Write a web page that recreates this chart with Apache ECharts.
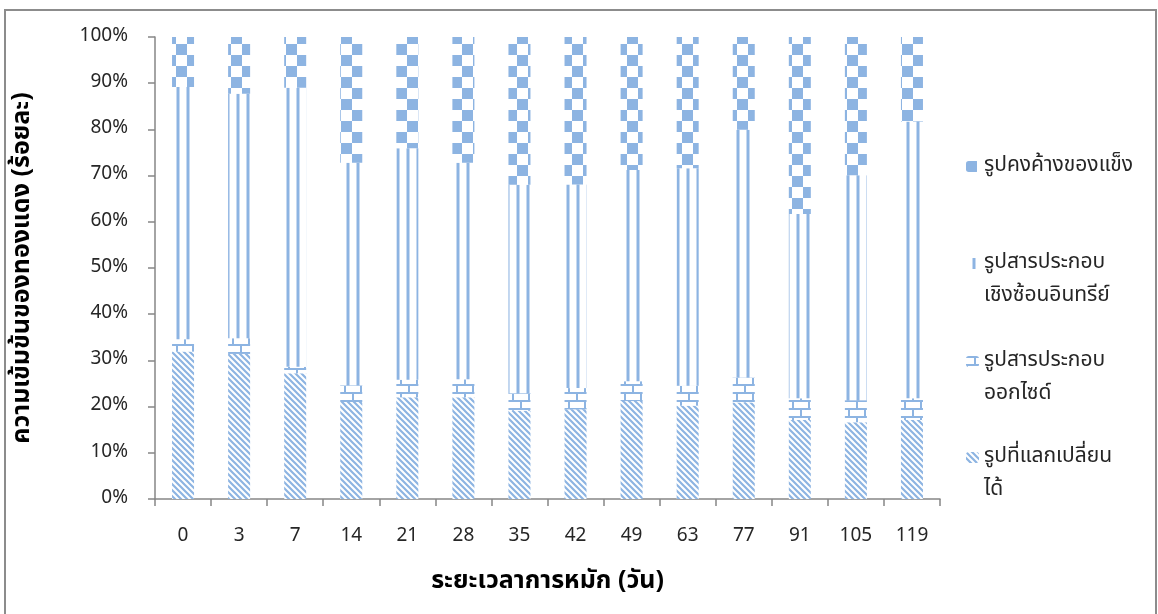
<!DOCTYPE html>
<html>
<head>
<meta charset="utf-8">
<script src="https://cdn.jsdelivr.net/npm/echarts@6/dist/echarts.min.js"></script>
<style>
html, body { margin: 0; padding: 0; background: #fff; }
#chart { width: 1158px; height: 614px; }
</style>
</head>
<body>
<div id="chart"></div>
<script>
// data (percent of total copper)
const days = ['0', '3', '7', '14', '21', '28', '35', '42', '49', '63', '77', '91', '105', '119']
const exchangeable = [31.9, 31.4, 27.2, 21.0, 22.0, 22.0, 19.1, 19.4, 21.2, 20.2, 20.9, 17.1, 16.6, 17.1]
const oxide = [2.7, 3.4, 1.4, 3.6, 3.8, 3.9, 3.8, 4.6, 4.3, 4.3, 5.4, 4.7, 4.8, 4.7]
const organic = [54.6, 52.9, 60.4, 48.2, 50.1, 46.9, 45.1, 44.1, 45.7, 47.1, 53.6, 39.9, 48.7, 59.9]
const residual = [10.8, 12.3, 11.0, 27.2, 24.1, 27.2, 32.0, 31.9, 28.8, 28.4, 20.1, 38.3, 29.9, 18.3]

const seriesNames = ['รูปที่แลกเปลี่ยนได้', 'รูปสารประกอบออกไซด์', 'รูปสารประกอบเชิงซ้อนอินทรีย์', 'รูปคงค้างของแข็ง']
// legend text, first line / second line
const legendLines = [
  ['รูปที่แลกเปลี่ยน', 'ได้'],
  ['รูปสารประกอบ', 'ออกไซด์'],
  ['รูปสารประกอบ', 'เชิงซ้อนอินทรีย์'],
  ['รูปคงค้างของแข็ง', '']
]

const BLUE = '#8db4e2'
const LIGHT = '#c6d9f1'
const FONT = "'Noto Sans Thai', 'Noto Sans', 'DejaVu Sans', sans-serif"

function tile(w, h, draw) {
  let c = document.createElement('canvas')
  c.width = w
  c.height = h
  let g = c.getContext('2d')
  g.fillStyle = '#fff'
  g.fillRect(0, 0, w, h)
  draw(g)
  return { image: c, repeat: 'repeat' }
}

const hatch = tile(6, 6, g => {
  g.strokeStyle = BLUE
  g.lineWidth = 2.2
  g.beginPath()
  for (let k = -1; k <= 1; k++) {
    g.moveTo(k * 6 - 1, -1)
    g.lineTo(k * 6 + 7, 7)
  }
  g.stroke()
})
const brick = tile(16, 16, g => {
  g.fillStyle = BLUE
  g.fillRect(0, 0, 16, 2)
  g.fillRect(0, 8, 16, 2)
  g.fillRect(8, 0, 2, 8)
  g.fillRect(0, 8, 2, 8)
})
const vlines = tile(10, 10, g => {
  g.fillStyle = LIGHT
  g.fillRect(6, 0, 4, 10)
  g.fillStyle = BLUE
  g.fillRect(7, 0, 2, 10)
})
const checker = tile(22, 22, g => {
  g.fillStyle = BLUE
  g.fillRect(0, 0, 11, 11)
  g.fillRect(11, 11, 11, 11)
})

const fills = [hatch, brick, vlines, checker]
const values = [exchangeable, oxide, organic, residual]

// legend rows, top to bottom, and the y of the first line
const legendTops = [447, 351, 253, 156]

let chart = echarts.init(document.getElementById('chart'))

let option = {
  backgroundColor: '#fff',
  animation: false,
  textStyle: { fontFamily: FONT },
  grid: { left: 155, right: 218, top: 37, bottom: 115 },
  legend: seriesNames.map((name, i) => ({
    data: [name],
    orient: 'vertical',
    left: 966,
    top: legendTops[i],
    padding: 0,
    itemWidth: 13,
    itemHeight: 11,
    selectedMode: false,
    formatter: () => legendLines[i][0],
    textStyle: { fontSize: 21, color: '#262626', fontFamily: FONT }
  })),
  graphic: [
    {
      type: 'rect',
      shape: { x: 5, y: 10, width: 1151, height: 620 },
      style: { fill: 'none', stroke: '#8c8c8c', lineWidth: 2 },
      silent: true
    }
  ].concat(legendLines.filter(l => l[1]).map((l, k) => ({
    type: 'text',
    left: 984,
    top: legendTops[k] + 33,
    style: { text: l[1], fill: '#262626', font: '21px ' + FONT }
  }))),
  xAxis: {
    type: 'category',
    data: days,
    name: 'ระยะเวลาการหมัก (วัน)',
    nameLocation: 'middle',
    nameGap: 71,
    nameTextStyle: { fontSize: 25, fontWeight: 'bold', color: '#000' },
    axisLine: { lineStyle: { color: '#868686', width: 1.5 } },
    axisTick: { show: true, interval: 0, length: 7, lineStyle: { color: '#868686', width: 1.5 } },
    axisLabel: { margin: 29, fontSize: 19, color: '#262626', interval: 0 }
  },
  yAxis: {
    type: 'value',
    min: 0,
    max: 100,
    interval: 10,
    name: 'ความเข้มข้นของทองแดง (ร้อยละ)',
    nameLocation: 'middle',
    nameGap: 119,
    nameTextStyle: { fontSize: 25, fontWeight: 'bold', color: '#000' },
    axisLine: { show: true, lineStyle: { color: '#868686', width: 1.5 } },
    axisTick: { show: true, length: 7, lineStyle: { color: '#868686', width: 1.5 } },
    splitLine: { show: false },
    axisLabel: { margin: 27, fontSize: 19, color: '#262626', formatter: '{value}%' }
  },
  series: seriesNames.map((name, i) => ({
    name: name,
    type: 'bar',
    stack: 'cu',
    barWidth: 22,
    data: values[i],
    itemStyle: { color: fills[i] }
  }))
}

chart.setOption(option)
</script>
</body>
</html>
